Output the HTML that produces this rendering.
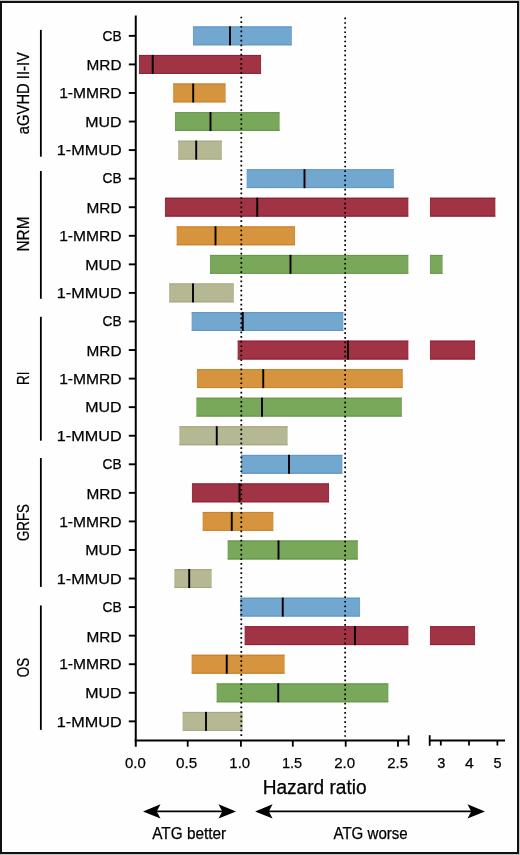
<!DOCTYPE html><html><head><meta charset="utf-8"><style>html,body{margin:0;padding:0;background:#c4c4c4;}svg{display:block;will-change:transform;}text{font-family:"Liberation Sans",sans-serif;fill:#000;stroke:#000;stroke-width:0.25px;}</style></head><body>
<svg width="520" height="855" viewBox="0 0 520 855">
<rect x="0" y="0" width="520" height="855" fill="#c4c4c4"/>
<rect x="0" y="1" width="519" height="853" fill="#111"/>
<rect x="2" y="3" width="515" height="849" fill="#fefefe"/>
<rect x="193.00" y="26.35" width="98.75" height="19.00" fill="#72a7d0"/>
<path d="M193.00,27.00H291.75M193.00,44.70H291.75" stroke="#6298c2" stroke-width="1.1" fill="none"/>
<path d="M193.35,26.35V45.35M291.40,26.35V45.35" stroke="#6298c2" stroke-width="0.7" stroke-opacity="0.5" fill="none"/>
<rect x="229.05" y="26.35" width="1.9" height="19.0" fill="#000"/>
<rect x="139.00" y="54.91" width="122.00" height="19.00" fill="#a03445"/>
<path d="M139.00,55.56H261.00M139.00,73.26H261.00" stroke="#8e2236" stroke-width="1.1" fill="none"/>
<path d="M139.35,54.91V73.91M260.65,54.91V73.91" stroke="#8e2236" stroke-width="0.7" stroke-opacity="0.5" fill="none"/>
<rect x="151.75" y="54.91" width="1.9" height="19.0" fill="#000"/>
<rect x="173.25" y="83.47" width="52.25" height="19.00" fill="#d6943e"/>
<path d="M173.25,84.12H225.50M173.25,101.82H225.50" stroke="#c88430" stroke-width="1.1" fill="none"/>
<path d="M173.60,83.47V102.47M225.15,83.47V102.47" stroke="#c88430" stroke-width="0.7" stroke-opacity="0.5" fill="none"/>
<rect x="192.25" y="83.47" width="1.9" height="19.0" fill="#000"/>
<rect x="175.00" y="112.04" width="104.50" height="19.00" fill="#79a85b"/>
<path d="M175.00,112.69H279.50M175.00,130.39H279.50" stroke="#69984b" stroke-width="1.1" fill="none"/>
<path d="M175.35,112.04V131.04M279.15,112.04V131.04" stroke="#69984b" stroke-width="0.7" stroke-opacity="0.5" fill="none"/>
<rect x="209.55" y="112.04" width="1.9" height="19.0" fill="#000"/>
<rect x="178.25" y="140.60" width="43.50" height="19.00" fill="#b5b893"/>
<path d="M178.25,141.25H221.75M178.25,158.95H221.75" stroke="#a5a883" stroke-width="1.1" fill="none"/>
<path d="M178.60,140.60V159.60M221.40,140.60V159.60" stroke="#a5a883" stroke-width="0.7" stroke-opacity="0.5" fill="none"/>
<rect x="195.25" y="140.60" width="1.9" height="19.0" fill="#000"/>
<rect x="246.75" y="169.16" width="147.00" height="19.00" fill="#72a7d0"/>
<path d="M246.75,169.81H393.75M246.75,187.51H393.75" stroke="#6298c2" stroke-width="1.1" fill="none"/>
<path d="M247.10,169.16V188.16M393.40,169.16V188.16" stroke="#6298c2" stroke-width="0.7" stroke-opacity="0.5" fill="none"/>
<rect x="303.55" y="169.16" width="1.9" height="19.0" fill="#000"/>
<rect x="165.00" y="197.72" width="243.25" height="19.00" fill="#a03445"/>
<path d="M165.00,198.38H408.25M165.00,216.07H408.25" stroke="#8e2236" stroke-width="1.1" fill="none"/>
<path d="M165.35,197.72V216.72M407.90,197.72V216.72" stroke="#8e2236" stroke-width="0.7" stroke-opacity="0.5" fill="none"/>
<rect x="430.00" y="197.72" width="65.25" height="19.00" fill="#a03445"/>
<path d="M430.00,198.38H495.25M430.00,216.07H495.25" stroke="#8e2236" stroke-width="1.1" fill="none"/>
<path d="M430.35,197.72V216.72M494.90,197.72V216.72" stroke="#8e2236" stroke-width="0.7" stroke-opacity="0.5" fill="none"/>
<rect x="256.30" y="197.72" width="1.9" height="19.0" fill="#000"/>
<rect x="176.75" y="226.29" width="118.25" height="19.00" fill="#d6943e"/>
<path d="M176.75,226.94H295.00M176.75,244.64H295.00" stroke="#c88430" stroke-width="1.1" fill="none"/>
<path d="M177.10,226.29V245.29M294.65,226.29V245.29" stroke="#c88430" stroke-width="0.7" stroke-opacity="0.5" fill="none"/>
<rect x="214.55" y="226.29" width="1.9" height="19.0" fill="#000"/>
<rect x="210.00" y="254.85" width="198.25" height="19.00" fill="#79a85b"/>
<path d="M210.00,255.50H408.25M210.00,273.20H408.25" stroke="#69984b" stroke-width="1.1" fill="none"/>
<path d="M210.35,254.85V273.85M407.90,254.85V273.85" stroke="#69984b" stroke-width="0.7" stroke-opacity="0.5" fill="none"/>
<rect x="430.00" y="254.85" width="12.50" height="19.00" fill="#79a85b"/>
<path d="M430.00,255.50H442.50M430.00,273.20H442.50" stroke="#69984b" stroke-width="1.1" fill="none"/>
<path d="M430.35,254.85V273.85M442.15,254.85V273.85" stroke="#69984b" stroke-width="0.7" stroke-opacity="0.5" fill="none"/>
<rect x="289.55" y="254.85" width="1.9" height="19.0" fill="#000"/>
<rect x="169.25" y="283.41" width="64.50" height="19.00" fill="#b5b893"/>
<path d="M169.25,284.06H233.75M169.25,301.76H233.75" stroke="#a5a883" stroke-width="1.1" fill="none"/>
<path d="M169.60,283.41V302.41M233.40,283.41V302.41" stroke="#a5a883" stroke-width="0.7" stroke-opacity="0.5" fill="none"/>
<rect x="192.05" y="283.41" width="1.9" height="19.0" fill="#000"/>
<rect x="191.75" y="311.98" width="151.50" height="19.00" fill="#72a7d0"/>
<path d="M191.75,312.62H343.25M191.75,330.33H343.25" stroke="#6298c2" stroke-width="1.1" fill="none"/>
<path d="M192.10,311.98V330.98M342.90,311.98V330.98" stroke="#6298c2" stroke-width="0.7" stroke-opacity="0.5" fill="none"/>
<rect x="241.80" y="311.98" width="1.9" height="19.0" fill="#000"/>
<rect x="237.75" y="340.54" width="170.50" height="19.00" fill="#a03445"/>
<path d="M237.75,341.19H408.25M237.75,358.89H408.25" stroke="#8e2236" stroke-width="1.1" fill="none"/>
<path d="M238.10,340.54V359.54M407.90,340.54V359.54" stroke="#8e2236" stroke-width="0.7" stroke-opacity="0.5" fill="none"/>
<rect x="430.00" y="340.54" width="45.00" height="19.00" fill="#a03445"/>
<path d="M430.00,341.19H475.00M430.00,358.89H475.00" stroke="#8e2236" stroke-width="1.1" fill="none"/>
<path d="M430.35,340.54V359.54M474.65,340.54V359.54" stroke="#8e2236" stroke-width="0.7" stroke-opacity="0.5" fill="none"/>
<rect x="347.05" y="340.54" width="1.9" height="19.0" fill="#000"/>
<rect x="197.00" y="369.10" width="205.75" height="19.00" fill="#d6943e"/>
<path d="M197.00,369.75H402.75M197.00,387.45H402.75" stroke="#c88430" stroke-width="1.1" fill="none"/>
<path d="M197.35,369.10V388.10M402.40,369.10V388.10" stroke="#c88430" stroke-width="0.7" stroke-opacity="0.5" fill="none"/>
<rect x="262.30" y="369.10" width="1.9" height="19.0" fill="#000"/>
<rect x="196.50" y="397.66" width="205.25" height="19.00" fill="#79a85b"/>
<path d="M196.50,398.31H401.75M196.50,416.01H401.75" stroke="#69984b" stroke-width="1.1" fill="none"/>
<path d="M196.85,397.66V416.66M401.40,397.66V416.66" stroke="#69984b" stroke-width="0.7" stroke-opacity="0.5" fill="none"/>
<rect x="261.05" y="397.66" width="1.9" height="19.0" fill="#000"/>
<rect x="179.50" y="426.23" width="108.00" height="19.00" fill="#b5b893"/>
<path d="M179.50,426.88H287.50M179.50,444.58H287.50" stroke="#a5a883" stroke-width="1.1" fill="none"/>
<path d="M179.85,426.23V445.23M287.15,426.23V445.23" stroke="#a5a883" stroke-width="0.7" stroke-opacity="0.5" fill="none"/>
<rect x="215.80" y="426.23" width="1.9" height="19.0" fill="#000"/>
<rect x="241.25" y="454.79" width="101.00" height="19.00" fill="#72a7d0"/>
<path d="M241.25,455.44H342.25M241.25,473.14H342.25" stroke="#6298c2" stroke-width="1.1" fill="none"/>
<path d="M241.60,454.79V473.79M341.90,454.79V473.79" stroke="#6298c2" stroke-width="0.7" stroke-opacity="0.5" fill="none"/>
<rect x="288.05" y="454.79" width="1.9" height="19.0" fill="#000"/>
<rect x="192.00" y="483.35" width="137.00" height="19.00" fill="#a03445"/>
<path d="M192.00,484.00H329.00M192.00,501.70H329.00" stroke="#8e2236" stroke-width="1.1" fill="none"/>
<path d="M192.35,483.35V502.35M328.65,483.35V502.35" stroke="#8e2236" stroke-width="0.7" stroke-opacity="0.5" fill="none"/>
<rect x="238.55" y="483.35" width="1.9" height="19.0" fill="#000"/>
<rect x="202.75" y="511.91" width="70.50" height="19.00" fill="#d6943e"/>
<path d="M202.75,512.56H273.25M202.75,530.26H273.25" stroke="#c88430" stroke-width="1.1" fill="none"/>
<path d="M203.10,511.91V530.91M272.90,511.91V530.91" stroke="#c88430" stroke-width="0.7" stroke-opacity="0.5" fill="none"/>
<rect x="230.80" y="511.91" width="1.9" height="19.0" fill="#000"/>
<rect x="227.75" y="540.48" width="130.00" height="19.00" fill="#79a85b"/>
<path d="M227.75,541.12H357.75M227.75,558.83H357.75" stroke="#69984b" stroke-width="1.1" fill="none"/>
<path d="M228.10,540.48V559.48M357.40,540.48V559.48" stroke="#69984b" stroke-width="0.7" stroke-opacity="0.5" fill="none"/>
<rect x="277.55" y="540.48" width="1.9" height="19.0" fill="#000"/>
<rect x="174.50" y="569.04" width="37.00" height="19.00" fill="#b5b893"/>
<path d="M174.50,569.69H211.50M174.50,587.39H211.50" stroke="#a5a883" stroke-width="1.1" fill="none"/>
<path d="M174.85,569.04V588.04M211.15,569.04V588.04" stroke="#a5a883" stroke-width="0.7" stroke-opacity="0.5" fill="none"/>
<rect x="188.25" y="569.04" width="1.9" height="19.0" fill="#000"/>
<rect x="240.25" y="597.60" width="119.75" height="19.00" fill="#72a7d0"/>
<path d="M240.25,598.25H360.00M240.25,615.95H360.00" stroke="#6298c2" stroke-width="1.1" fill="none"/>
<path d="M240.60,597.60V616.60M359.65,597.60V616.60" stroke="#6298c2" stroke-width="0.7" stroke-opacity="0.5" fill="none"/>
<rect x="281.80" y="597.60" width="1.9" height="19.0" fill="#000"/>
<rect x="244.75" y="626.16" width="163.50" height="19.00" fill="#a03445"/>
<path d="M244.75,626.81H408.25M244.75,644.51H408.25" stroke="#8e2236" stroke-width="1.1" fill="none"/>
<path d="M245.10,626.16V645.16M407.90,626.16V645.16" stroke="#8e2236" stroke-width="0.7" stroke-opacity="0.5" fill="none"/>
<rect x="430.00" y="626.16" width="45.00" height="19.00" fill="#a03445"/>
<path d="M430.00,626.81H475.00M430.00,644.51H475.00" stroke="#8e2236" stroke-width="1.1" fill="none"/>
<path d="M430.35,626.16V645.16M474.65,626.16V645.16" stroke="#8e2236" stroke-width="0.7" stroke-opacity="0.5" fill="none"/>
<rect x="354.05" y="626.16" width="1.9" height="19.0" fill="#000"/>
<rect x="191.75" y="654.73" width="92.75" height="19.00" fill="#d6943e"/>
<path d="M191.75,655.38H284.50M191.75,673.08H284.50" stroke="#c88430" stroke-width="1.1" fill="none"/>
<path d="M192.10,654.73V673.73M284.15,654.73V673.73" stroke="#c88430" stroke-width="0.7" stroke-opacity="0.5" fill="none"/>
<rect x="225.80" y="654.73" width="1.9" height="19.0" fill="#000"/>
<rect x="216.75" y="683.29" width="171.50" height="19.00" fill="#79a85b"/>
<path d="M216.75,683.94H388.25M216.75,701.64H388.25" stroke="#69984b" stroke-width="1.1" fill="none"/>
<path d="M217.10,683.29V702.29M387.90,683.29V702.29" stroke="#69984b" stroke-width="0.7" stroke-opacity="0.5" fill="none"/>
<rect x="277.30" y="683.29" width="1.9" height="19.0" fill="#000"/>
<rect x="182.75" y="711.85" width="59.75" height="19.00" fill="#b5b893"/>
<path d="M182.75,712.50H242.50M182.75,730.20H242.50" stroke="#a5a883" stroke-width="1.1" fill="none"/>
<path d="M183.10,711.85V730.85M242.15,711.85V730.85" stroke="#a5a883" stroke-width="0.7" stroke-opacity="0.5" fill="none"/>
<rect x="205.05" y="711.85" width="1.9" height="19.0" fill="#000"/>
<line x1="241.3" y1="16.65" x2="241.3" y2="737" stroke="#000" stroke-width="1.75" stroke-dasharray="1.7 2.93"/>
<line x1="345.15" y1="17.5" x2="345.15" y2="737.5" stroke="#000" stroke-width="1.75" stroke-dasharray="1.7 2.93"/>
<line x1="135.75" y1="15.4" x2="135.75" y2="746.8" stroke="#000" stroke-width="2"/>
<line x1="134.75" y1="740.4" x2="408.6" y2="740.4" stroke="#000" stroke-width="2"/>
<line x1="408.6" y1="735.4" x2="408.6" y2="745.4" stroke="#000" stroke-width="1.8"/>
<line x1="429.7" y1="740.4" x2="505" y2="740.4" stroke="#000" stroke-width="2"/>
<line x1="429.7" y1="735.2" x2="429.7" y2="745.8" stroke="#000" stroke-width="1.8"/>
<line x1="187.7" y1="740" x2="187.7" y2="746.7" stroke="#000" stroke-width="1.8"/>
<line x1="240.9" y1="740" x2="240.9" y2="746.7" stroke="#000" stroke-width="1.8"/>
<line x1="292.8" y1="740" x2="292.8" y2="746.7" stroke="#000" stroke-width="1.8"/>
<line x1="345.7" y1="740" x2="345.7" y2="746.7" stroke="#000" stroke-width="1.8"/>
<line x1="398" y1="740" x2="398" y2="746.7" stroke="#000" stroke-width="1.8"/>
<line x1="440.8" y1="740" x2="440.8" y2="745.5" stroke="#000" stroke-width="1.8"/>
<line x1="469" y1="740" x2="469" y2="745.5" stroke="#000" stroke-width="1.8"/>
<line x1="497.4" y1="740" x2="497.4" y2="745.5" stroke="#000" stroke-width="1.8"/>
<line x1="128.8" y1="35.85" x2="135" y2="35.85" stroke="#000" stroke-width="1.9"/>
<line x1="128.8" y1="64.41" x2="135" y2="64.41" stroke="#000" stroke-width="1.9"/>
<line x1="128.8" y1="92.97" x2="135" y2="92.97" stroke="#000" stroke-width="1.9"/>
<line x1="128.8" y1="121.54" x2="135" y2="121.54" stroke="#000" stroke-width="1.9"/>
<line x1="128.8" y1="150.10" x2="135" y2="150.10" stroke="#000" stroke-width="1.9"/>
<line x1="128.8" y1="178.66" x2="135" y2="178.66" stroke="#000" stroke-width="1.9"/>
<line x1="128.8" y1="207.22" x2="135" y2="207.22" stroke="#000" stroke-width="1.9"/>
<line x1="128.8" y1="235.79" x2="135" y2="235.79" stroke="#000" stroke-width="1.9"/>
<line x1="128.8" y1="264.35" x2="135" y2="264.35" stroke="#000" stroke-width="1.9"/>
<line x1="128.8" y1="292.91" x2="135" y2="292.91" stroke="#000" stroke-width="1.9"/>
<line x1="128.8" y1="321.48" x2="135" y2="321.48" stroke="#000" stroke-width="1.9"/>
<line x1="128.8" y1="350.04" x2="135" y2="350.04" stroke="#000" stroke-width="1.9"/>
<line x1="128.8" y1="378.60" x2="135" y2="378.60" stroke="#000" stroke-width="1.9"/>
<line x1="128.8" y1="407.16" x2="135" y2="407.16" stroke="#000" stroke-width="1.9"/>
<line x1="128.8" y1="435.73" x2="135" y2="435.73" stroke="#000" stroke-width="1.9"/>
<line x1="128.8" y1="464.29" x2="135" y2="464.29" stroke="#000" stroke-width="1.9"/>
<line x1="128.8" y1="492.85" x2="135" y2="492.85" stroke="#000" stroke-width="1.9"/>
<line x1="128.8" y1="521.41" x2="135" y2="521.41" stroke="#000" stroke-width="1.9"/>
<line x1="128.8" y1="549.98" x2="135" y2="549.98" stroke="#000" stroke-width="1.9"/>
<line x1="128.8" y1="578.54" x2="135" y2="578.54" stroke="#000" stroke-width="1.9"/>
<line x1="128.8" y1="607.10" x2="135" y2="607.10" stroke="#000" stroke-width="1.9"/>
<line x1="128.8" y1="635.66" x2="135" y2="635.66" stroke="#000" stroke-width="1.9"/>
<line x1="128.8" y1="664.23" x2="135" y2="664.23" stroke="#000" stroke-width="1.9"/>
<line x1="128.8" y1="692.79" x2="135" y2="692.79" stroke="#000" stroke-width="1.9"/>
<line x1="128.8" y1="721.35" x2="135" y2="721.35" stroke="#000" stroke-width="1.9"/>
<line x1="40.85" y1="29.9" x2="40.85" y2="156.7" stroke="#000" stroke-width="1.8"/>
<line x1="40.85" y1="171.0" x2="40.85" y2="298.8" stroke="#000" stroke-width="1.8"/>
<line x1="40.85" y1="316.8" x2="40.85" y2="440.7" stroke="#000" stroke-width="1.8"/>
<line x1="40.85" y1="458.0" x2="40.85" y2="586.9" stroke="#000" stroke-width="1.8"/>
<line x1="40.85" y1="605.4" x2="40.85" y2="729.9" stroke="#000" stroke-width="1.8"/>
<text x="102.50" y="40.50" font-size="15.4" textLength="19.02" lengthAdjust="spacingAndGlyphs">CB</text>
<text x="86.54" y="70.26" font-size="15.4" textLength="35.00" lengthAdjust="spacingAndGlyphs">MRD</text>
<text x="59.21" y="98.12" font-size="15.4" textLength="62.33" lengthAdjust="spacingAndGlyphs">1-MMRD</text>
<text x="85.29" y="126.69" font-size="15.4" textLength="36.27" lengthAdjust="spacingAndGlyphs">MUD</text>
<text x="56.87" y="155.25" font-size="15.4" textLength="64.71" lengthAdjust="spacingAndGlyphs">1-MMUD</text>
<text x="102.50" y="183.31" font-size="15.4" textLength="19.02" lengthAdjust="spacingAndGlyphs">CB</text>
<text x="86.54" y="213.08" font-size="15.4" textLength="35.00" lengthAdjust="spacingAndGlyphs">MRD</text>
<text x="59.21" y="240.94" font-size="15.4" textLength="62.33" lengthAdjust="spacingAndGlyphs">1-MMRD</text>
<text x="85.29" y="269.50" font-size="15.4" textLength="36.27" lengthAdjust="spacingAndGlyphs">MUD</text>
<text x="56.87" y="298.06" font-size="15.4" textLength="64.71" lengthAdjust="spacingAndGlyphs">1-MMUD</text>
<text x="102.50" y="326.13" font-size="15.4" textLength="19.02" lengthAdjust="spacingAndGlyphs">CB</text>
<text x="86.54" y="355.89" font-size="15.4" textLength="35.00" lengthAdjust="spacingAndGlyphs">MRD</text>
<text x="59.21" y="383.75" font-size="15.4" textLength="62.33" lengthAdjust="spacingAndGlyphs">1-MMRD</text>
<text x="85.29" y="412.31" font-size="15.4" textLength="36.27" lengthAdjust="spacingAndGlyphs">MUD</text>
<text x="56.87" y="440.88" font-size="15.4" textLength="64.71" lengthAdjust="spacingAndGlyphs">1-MMUD</text>
<text x="102.50" y="468.94" font-size="15.4" textLength="19.02" lengthAdjust="spacingAndGlyphs">CB</text>
<text x="86.54" y="498.70" font-size="15.4" textLength="35.00" lengthAdjust="spacingAndGlyphs">MRD</text>
<text x="59.21" y="526.56" font-size="15.4" textLength="62.33" lengthAdjust="spacingAndGlyphs">1-MMRD</text>
<text x="85.29" y="555.12" font-size="15.4" textLength="36.27" lengthAdjust="spacingAndGlyphs">MUD</text>
<text x="56.87" y="583.69" font-size="15.4" textLength="64.71" lengthAdjust="spacingAndGlyphs">1-MMUD</text>
<text x="102.50" y="611.75" font-size="15.4" textLength="19.02" lengthAdjust="spacingAndGlyphs">CB</text>
<text x="86.54" y="641.51" font-size="15.4" textLength="35.00" lengthAdjust="spacingAndGlyphs">MRD</text>
<text x="59.21" y="669.38" font-size="15.4" textLength="62.33" lengthAdjust="spacingAndGlyphs">1-MMRD</text>
<text x="85.29" y="697.94" font-size="15.4" textLength="36.27" lengthAdjust="spacingAndGlyphs">MUD</text>
<text x="56.87" y="726.50" font-size="15.4" textLength="64.71" lengthAdjust="spacingAndGlyphs">1-MMUD</text>
<text transform="translate(28.5,0) rotate(-90)" x="-134.13" y="0" font-size="15.6" textLength="82.09" lengthAdjust="spacingAndGlyphs">aGVHD II-IV</text>
<text transform="translate(28.5,0) rotate(-90)" x="-251.45" y="0" font-size="15.6" textLength="34.81" lengthAdjust="spacingAndGlyphs">NRM</text>
<text transform="translate(28.5,0) rotate(-90)" x="-385.00" y="0" font-size="15.6" textLength="13.44" lengthAdjust="spacingAndGlyphs">RI</text>
<text transform="translate(28.5,0) rotate(-90)" x="-541.07" y="0" font-size="15.6" textLength="36.98" lengthAdjust="spacingAndGlyphs">GRFS</text>
<text transform="translate(28.5,0) rotate(-90)" x="-677.23" y="0" font-size="15.6" textLength="19.35" lengthAdjust="spacingAndGlyphs">OS</text>
<text x="125.02" y="767.9" font-size="15.4" textLength="20.77" lengthAdjust="spacingAndGlyphs">0.0</text>
<text x="176.10" y="767.9" font-size="15.4" textLength="21.24" lengthAdjust="spacingAndGlyphs">0.5</text>
<text x="229.36" y="767.9" font-size="15.4" textLength="20.72" lengthAdjust="spacingAndGlyphs">1.0</text>
<text x="281.89" y="767.9" font-size="15.4" textLength="20.22" lengthAdjust="spacingAndGlyphs">1.5</text>
<text x="334.14" y="767.9" font-size="15.4" textLength="20.95" lengthAdjust="spacingAndGlyphs">2.0</text>
<text x="387.35" y="767.9" font-size="15.4" textLength="20.67" lengthAdjust="spacingAndGlyphs">2.5</text>
<text x="437.25" y="767.9" font-size="15.4" textLength="8.09" lengthAdjust="spacingAndGlyphs">3</text>
<text x="465.14" y="767.9" font-size="15.4" textLength="8.72" lengthAdjust="spacingAndGlyphs">4</text>
<text x="493.62" y="767.9" font-size="15.4" textLength="8.09" lengthAdjust="spacingAndGlyphs">5</text>
<text x="262.63" y="794.0" font-size="19.5" textLength="104.02" lengthAdjust="spacingAndGlyphs">Hazard ratio</text>
<text x="152.27" y="839.1" font-size="16" textLength="73.88" lengthAdjust="spacingAndGlyphs">ATG better</text>
<text x="333.47" y="839.2" font-size="16" textLength="74.29" lengthAdjust="spacingAndGlyphs">ATG worse</text>
<line x1="150" y1="811.4" x2="229" y2="811.4" stroke="#000" stroke-width="1.7"/>
<path d="M143,811.4 L160.5,804.1999999999999 L156.7,811.4 L160.5,818.6 Z" fill="#000"/>
<path d="M236,811.4 L218.5,804.1999999999999 L222.3,811.4 L218.5,818.6 Z" fill="#000"/>
<line x1="262" y1="811.4" x2="478" y2="811.4" stroke="#000" stroke-width="1.7"/>
<path d="M255.1,811.4 L272.6,804.1999999999999 L268.8,811.4 L272.6,818.6 Z" fill="#000"/>
<path d="M485,811.4 L467.5,804.1999999999999 L471.3,811.4 L467.5,818.6 Z" fill="#000"/>
</svg></body></html>
